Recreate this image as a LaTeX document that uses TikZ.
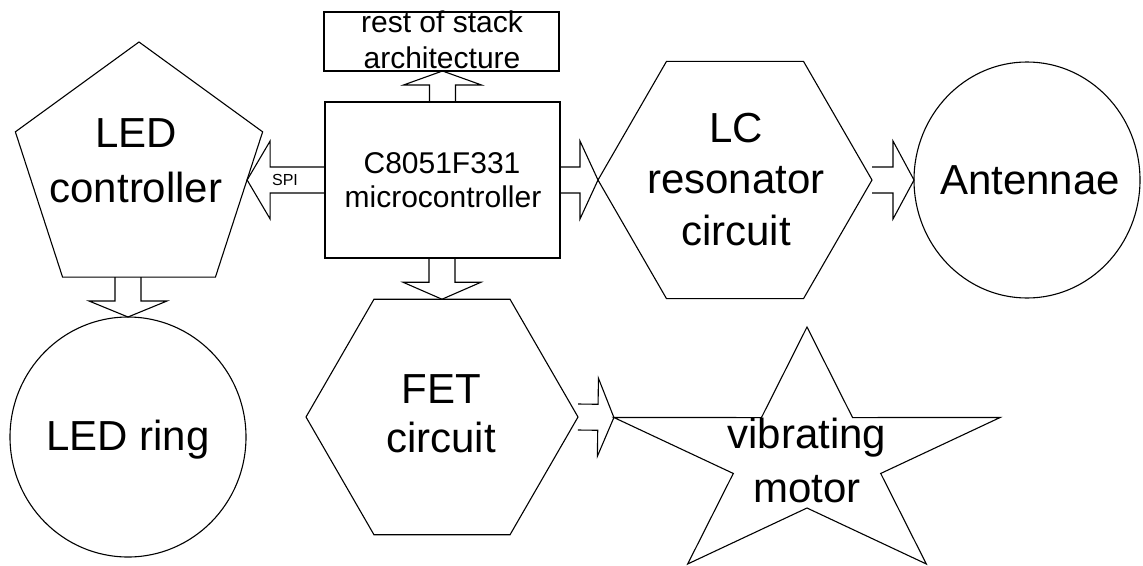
\documentclass[tikz,border=0pt]{standalone}
\usepackage{fontspec}
\setmainfont{Liberation Sans}
\usetikzlibrary{shapes.geometric,calc}

\tikzset{
  shp/.style={draw, line width=1.1pt, inner sep=0pt, outer sep=0pt},
  bigtxt/.style={font=\fontsize{42}{50}\selectfont, inner sep=0pt, anchor=base},
  midtxt/.style={font=\fontsize{30}{36}\selectfont, inner sep=0pt, anchor=base},
  smalltxt/.style={font=\fontsize{16}{19}\selectfont, inner sep=0pt, anchor=base},
  barrow/.style={line width=1.1pt, line join=miter}
}

% #1 start, #2 tip, #3 head length (pt)
\newcommand\blockarrow[3]{%
  \coordinate (hb) at ($(#2)!#3pt!(#1)$);
  \draw[barrow] ($(#1)!13pt!90:(#2)$) -- ($(hb)!13pt!90:(#2)$) -- ($(hb)!39pt!90:(#2)$)
    -- (#2) -- ($(hb)!39pt!-90:(#2)$) -- ($(hb)!13pt!-90:(#2)$) -- ($(#1)!13pt!-90:(#2)$);
}

\begin{document}
\begin{tikzpicture}[x=1pt,y=-1pt]
\useasboundingbox (0,0) rectangle (1143,565);

% shapes
\node[shp, rectangle, minimum width=235pt, minimum height=59pt] (stack) at (441.5,41.5) {};
\node[shp, rectangle, minimum width=235pt, minimum height=156pt] (micro) at (442.5,180) {};
\node[shp, regular polygon, regular polygon sides=5, minimum size=260pt] (pent) at (139,172) {};
\node[shp, regular polygon, regular polygon sides=6, minimum size=274pt] (lc) at (735,180) {};
\node[shp, regular polygon, regular polygon sides=6, minimum size=272pt] (fet) at (442,417) {};
\node[shp, ellipse, minimum width=236pt, minimum height=240pt] (ring) at (128,437) {};
\node[shp, ellipse, minimum width=226pt, minimum height=236pt] (ant) at (1027,180) {};

% star
\coordinate (mc) at (807,458);
\draw[line width=1.1pt, line join=miter, shift={(mc)}]
  (-90:203 and 131) -- (-54:77.5 and 50) -- (-18:203 and 131) -- (18:77.5 and 50)
  -- (54:203 and 131) -- (90:77.5 and 50) -- (126:203 and 131) -- (162:77.5 and 50)
  -- (198:203 and 131) -- (234:77.5 and 50) -- cycle;
\coordinate (starL) at (613.9,417.5);

% texts
\node[midtxt] (t1a) at (442,32) {rest of stack};
\node[midtxt] (t1b) at (442,68) {architecture};
\node[midtxt] (t2a) at (442,173) {C8051F331};
\node[midtxt] (t2b) at (443,207) {microcontroller};
\node[smalltxt] (spi) at (285,185) {SPI};
\node[bigtxt] (t3a) at (136,147) {LED};
\node[bigtxt] (t3b) at (136,202) {controller};
\node[bigtxt] (t4a) at (736,142) {LC};
\node[bigtxt] (t4b) at (736,193) {resonator};
\node[bigtxt] (t4c) at (736,245) {circuit};
\node[bigtxt] (t5) at (1030,194) {Antennae};
\node[bigtxt] (t6) at (128,450) {LED ring};
\node[bigtxt] (t7a) at (441,403) {FET};
\node[bigtxt] (t7b) at (441,452) {circuit};
\node[bigtxt] (t8a) at (807,448) {vibrating};
\node[bigtxt] (t8b) at (807,502) {motor};

% block arrows
\coordinate (a1e) at (micro.north |- stack.south);
\blockarrow{micro.north}{a1e}{14}
\coordinate (a2e) at (pent.-4 |- micro.west);
\blockarrow{micro.west}{a2e}{23}
\blockarrow{micro.east}{lc.180}{18}
\blockarrow{lc.0}{ant.west}{21}
\coordinate (a5s) at (ring.north |- pent.270);
\blockarrow{a5s}{ring.north}{16}
\coordinate (a6s) at (micro.south -| fet.90);
\blockarrow{a6s}{fet.90}{17}
\blockarrow{fet.0}{starL}{16}
\end{tikzpicture}
\end{document}
